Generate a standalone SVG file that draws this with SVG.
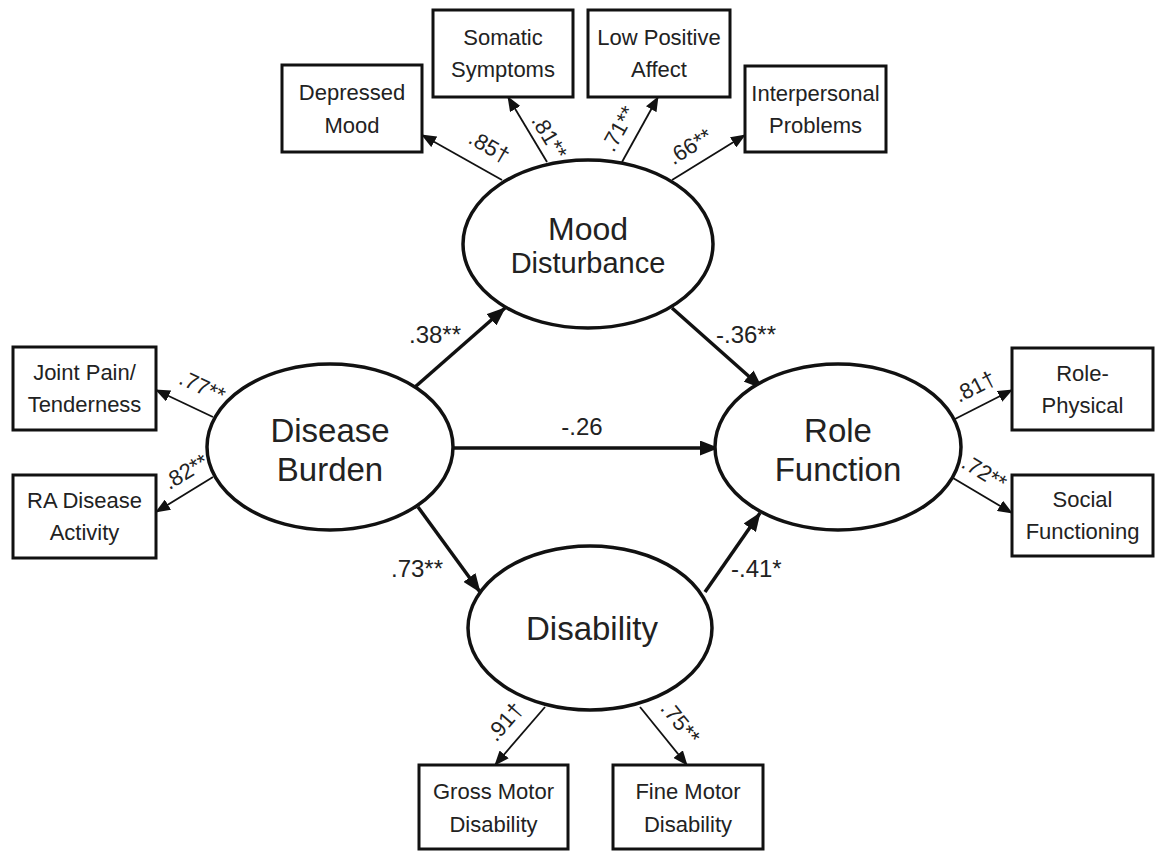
<svg xmlns="http://www.w3.org/2000/svg" width="1155" height="852" viewBox="0 0 1155 852">
<style>
  .box { fill: #fff; stroke: #111; stroke-width: 3; }
  .lat { fill: #fff; stroke: #111; stroke-width: 3.5; }
  .bt { font-family: "Liberation Sans", Arial, sans-serif; font-size: 22px; fill: #222; text-anchor: middle; }
  .lt { font-family: "Liberation Sans", Arial, sans-serif; font-size: 33px; fill: #222; text-anchor: middle; }
  .cf { font-family: "Liberation Sans", Arial, sans-serif; font-size: 24px; fill: #222; }
  .rc { font-family: "Liberation Sans", Arial, sans-serif; font-size: 22px; fill: #222; text-anchor: middle; }
  .sa { fill: none; stroke: #111; stroke-width: 3.5; marker-end: url(#ah); }
  .ma { fill: none; stroke: #111; stroke-width: 1.8; marker-end: url(#am); }
</style>
<defs>
  <marker id="ah" markerUnits="userSpaceOnUse" viewBox="0 0 19 15" markerWidth="19" markerHeight="15" refX="18" refY="7.5" orient="auto">
    <path d="M0,0 L19,7.5 L0,15 z" fill="#111"/>
  </marker>
  <marker id="am" markerUnits="userSpaceOnUse" viewBox="0 0 15 12" markerWidth="15" markerHeight="12" refX="14" refY="6" orient="auto">
    <path d="M0,0 L15,6 L0,12 z" fill="#111"/>
  </marker>
</defs>
<rect width="1155" height="852" fill="#fff"/>

<g id="connectors">
  <path class="sa" d="M415,387 L505,308"/>
  <path class="sa" d="M672,308 L762,388"/>
  <path class="sa" d="M453,448 L718,448"/>
  <path class="sa" d="M418,507 L480,592"/>
  <path class="sa" d="M705,592 L760,513"/>
  <path class="ma" d="M502,180 L422,135"/>
  <path class="ma" d="M547,162 L508,97"/>
  <path class="ma" d="M622,162 L658,97"/>
  <path class="ma" d="M672,180 L745,135"/>
  <path class="ma" d="M213,417 L156,390"/>
  <path class="ma" d="M213,477 L156,512"/>
  <path class="ma" d="M953,420 L1012,390"/>
  <path class="ma" d="M953,478 L1012,513"/>
  <path class="ma" d="M545,707 L495,765"/>
  <path class="ma" d="M640,707 L687,765"/>
  <text class="cf" x="409" y="343">.38**</text>
  <text class="cf" x="716" y="343">-.36**</text>
  <text class="cf" x="582" y="435" text-anchor="middle">-.26</text>
  <text class="cf" x="391" y="577">.73**</text>
  <text class="cf" x="731" y="577">-.41*</text>
  <text class="rc" transform="translate(489,147) rotate(30)" x="0" y="7">.85†</text>
  <text class="rc" transform="translate(549,137) rotate(59)" x="0" y="7">.81**</text>
  <text class="rc" transform="translate(619,129) rotate(-61)" x="0" y="7">.71**</text>
  <text class="rc" transform="translate(690,147) rotate(-32)" x="0" y="7">.66**</text>
  <text class="rc" transform="translate(202,387) rotate(25)" x="0" y="7">.77**</text>
  <text class="rc" transform="translate(186,472) rotate(-31)" x="0" y="7">.82**</text>
  <text class="rc" transform="translate(975,387) rotate(-27)" x="0" y="7">.81†</text>
  <text class="rc" transform="translate(984,473) rotate(31)" x="0" y="7">.72**</text>
  <text class="rc" transform="translate(505,722) rotate(-49)" x="0" y="7">.91†</text>
  <text class="rc" transform="translate(680,723) rotate(51)" x="0" y="7">.75**</text>
</g>

<g id="mood">
  <ellipse class="lat" cx="588" cy="244" rx="125" ry="84"/>
  <text class="lt" x="588" y="240" style="font-size:32px">Mood</text>
  <text class="lt" x="588" y="273" style="font-size:29px">Disturbance</text>
</g>
<g id="disease">
  <ellipse class="lat" cx="330" cy="447" rx="123" ry="83"/>
  <text class="lt" x="330" y="442">Disease</text>
  <text class="lt" x="330" y="481">Burden</text>
</g>
<g id="role">
  <ellipse class="lat" cx="838" cy="447" rx="123" ry="83"/>
  <text class="lt" x="838" y="442">Role</text>
  <text class="lt" x="838" y="481">Function</text>
</g>
<g id="disability">
  <ellipse class="lat" cx="590" cy="628" rx="122" ry="82"/>
  <text class="lt" x="592" y="640">Disability</text>
</g>

<g id="depressed"><rect class="box" x="282" y="65" width="140" height="87"/>
  <text class="bt" x="352" y="100">Depressed</text><text class="bt" x="352" y="133">Mood</text></g>
<g id="somatic"><rect class="box" x="433" y="10" width="140" height="87"/>
  <text class="bt" x="503" y="45">Somatic</text><text class="bt" x="503" y="77">Symptoms</text></g>
<g id="lowpos"><rect class="box" x="588" y="10" width="142" height="87"/>
  <text class="bt" x="659" y="45">Low Positive</text><text class="bt" x="659" y="77">Affect</text></g>
<g id="interp"><rect class="box" x="745" y="66" width="141" height="86"/>
  <text class="bt" x="815.5" y="101">Interpersonal</text><text class="bt" x="815.5" y="133">Problems</text></g>
<g id="joint"><rect class="box" x="13" y="347" width="143" height="83"/>
  <text class="bt" x="84.5" y="380">Joint Pain/</text><text class="bt" x="84.5" y="412">Tenderness</text></g>
<g id="ra"><rect class="box" x="13" y="475" width="143" height="83"/>
  <text class="bt" x="84.5" y="508">RA Disease</text><text class="bt" x="84.5" y="540">Activity</text></g>
<g id="rolephys"><rect class="box" x="1012" y="348" width="141" height="82"/>
  <text class="bt" x="1082.5" y="381">Role-</text><text class="bt" x="1082.5" y="413">Physical</text></g>
<g id="social"><rect class="box" x="1012" y="475" width="141" height="81"/>
  <text class="bt" x="1082.5" y="507">Social</text><text class="bt" x="1082.5" y="539">Functioning</text></g>
<g id="gross"><rect class="box" x="419" y="765" width="149" height="84"/>
  <text class="bt" x="493.5" y="799">Gross Motor</text><text class="bt" x="493.5" y="832">Disability</text></g>
<g id="fine"><rect class="box" x="613" y="765" width="150" height="84"/>
  <text class="bt" x="688" y="799">Fine Motor</text><text class="bt" x="688" y="832">Disability</text></g>
</svg>
